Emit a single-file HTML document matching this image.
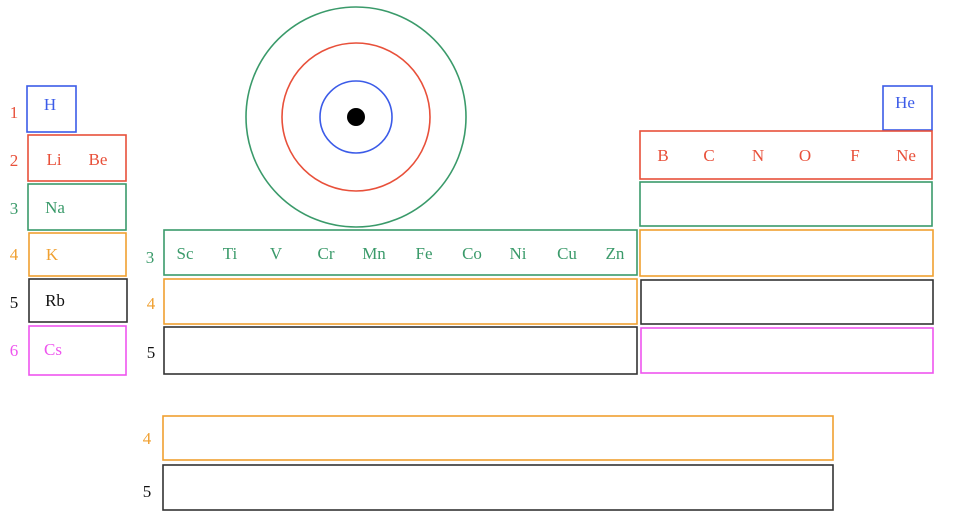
<!DOCTYPE html>
<html><head><meta charset="utf-8"><style>html,body{margin:0;padding:0;background:#fff}</style></head><body>
<svg width="956" height="520" xmlns="http://www.w3.org/2000/svg" font-family="Liberation Serif, serif" font-size="17" text-anchor="middle">
<g fill="none" stroke-width="1.6">
<circle cx="356" cy="117" r="110" stroke="#3a9a6a"/>
<circle cx="356" cy="117" r="74" stroke="#e8503a"/>
<circle cx="356" cy="117" r="36" stroke="#3b5be8"/>
<rect x="27" y="86" width="49" height="46" stroke="#3b5be8"/>
<rect x="28" y="135" width="98" height="46" stroke="#e8503a"/>
<rect x="28" y="184" width="98" height="46" stroke="#3a9a6a"/>
<rect x="29" y="233" width="97" height="43" stroke="#f0a030"/>
<rect x="29" y="279" width="98" height="43" stroke="#333"/>
<rect x="29" y="326" width="97" height="49" stroke="#ee55ee"/>
<rect x="883" y="86" width="49" height="44" stroke="#3b5be8"/>
<rect x="640" y="131" width="292" height="48" stroke="#e8503a"/>
<rect x="640" y="182" width="292" height="44" stroke="#3a9a6a"/>
<rect x="640" y="230" width="293" height="46" stroke="#f0a030"/>
<rect x="641" y="280" width="292" height="44" stroke="#333"/>
<rect x="641" y="328" width="292" height="45" stroke="#ee55ee"/>
<rect x="164" y="230" width="473" height="45" stroke="#3a9a6a"/>
<rect x="164" y="279" width="473" height="45" stroke="#f0a030"/>
<rect x="164" y="327" width="473" height="47" stroke="#333"/>
<rect x="163" y="416" width="670" height="44" stroke="#f0a030"/>
<rect x="163" y="465" width="670" height="45" stroke="#333"/>
</g>
<circle cx="356" cy="117" r="9" fill="#000"/>
<g fill="#e8503a"><text x="14" y="118">1</text><text x="14" y="166">2</text><text x="54" y="165">Li</text><text x="98" y="165">Be</text>
<text x="663" y="161">B</text><text x="709" y="161">C</text><text x="758" y="161">N</text><text x="805" y="161">O</text><text x="855" y="161">F</text><text x="906" y="161">Ne</text></g>
<g fill="#3b5be8"><text x="50" y="110">H</text><text x="905" y="108">He</text></g>
<g fill="#3a9a6a"><text x="14" y="214">3</text><text x="55" y="213">Na</text><text x="150" y="263">3</text>
<text x="185" y="259">Sc</text><text x="230" y="259">Ti</text><text x="276" y="259">V</text><text x="326" y="259">Cr</text><text x="374" y="259">Mn</text><text x="424" y="259">Fe</text><text x="472" y="259">Co</text><text x="518" y="259">Ni</text><text x="567" y="259">Cu</text><text x="615" y="259">Zn</text></g>
<g fill="#f0a030"><text x="14" y="260">4</text><text x="52" y="260">K</text><text x="151" y="309">4</text><text x="147" y="444">4</text></g>
<g fill="#111"><text x="14" y="308">5</text><text x="55" y="306">Rb</text><text x="151" y="358">5</text><text x="147" y="497">5</text></g>
<g fill="#ee55ee"><text x="14" y="356">6</text><text x="53" y="355">Cs</text></g>
</svg>
</body></html>
